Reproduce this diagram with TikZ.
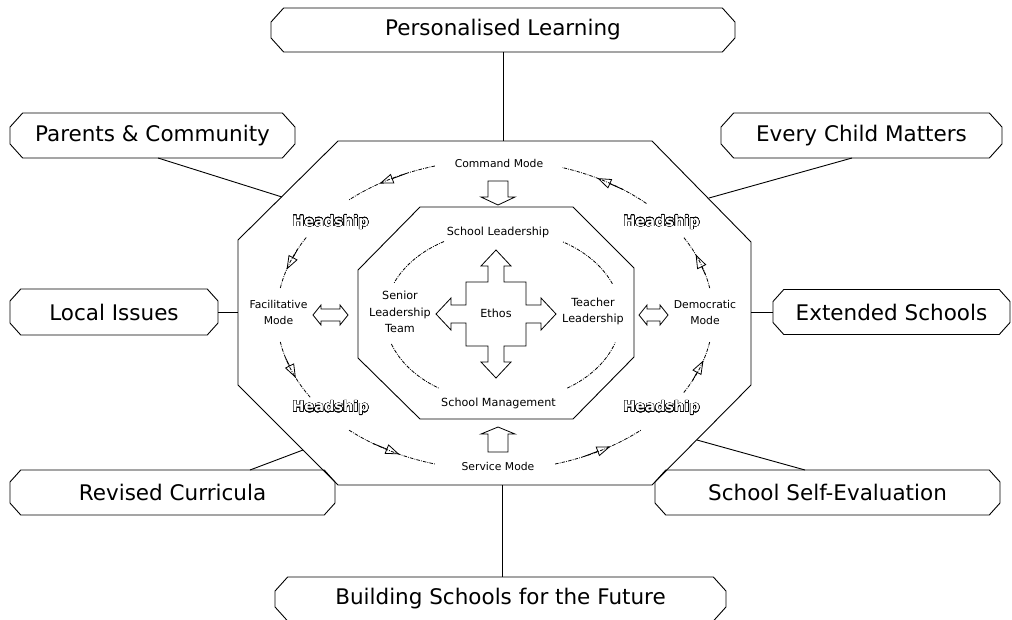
\documentclass[tikz,border=0pt]{standalone}
\usepackage{fontspec}
\setmainfont{DejaVu Sans}
\usepackage[copies]{contour}
\contourlength{0.45pt}
\contournumber{24}
\usetikzlibrary{shapes.misc,arrows.meta}
\tikzset{
  ext/.style={chamfered rectangle, chamfered rectangle xsep=11pt, chamfered rectangle angle=42,
    draw, line width=0.9pt, inner sep=0pt, font=\fontsize{21.5}{25}\selectfont},
  frame/.style={draw, line width=0.9pt},
  conn/.style={draw, line width=0.9pt},
  small/.style={font=\fontsize{10.8}{16}\selectfont, align=center, inner sep=0pt},
  head/.style={font=\bfseries\fontsize{14.5}{16}\selectfont, inner sep=0pt},
  blockarrow/.style={draw, fill=white, line width=0.8pt, line join=miter},
  ring/.style={draw, line width=0.8pt, dash pattern=on 3.5pt off 1.2pt on 0.8pt off 1.2pt},
  tipseg/.style={draw, line width=0.8pt, -{Triangle[open,length=14pt,width=10pt]}}
}
\newcommand{\hdship}{\contour{black}{\textcolor{white}{Headship}}}
\begin{document}
\begin{tikzpicture}[x=1pt,y=-1pt]
\useasboundingbox (0,0) rectangle (1012,619);

% outer boxes
\node[ext, minimum width=464pt, minimum height=44pt] (pl) at (503,30) {Personalised Learning};
\node[ext, minimum width=285pt, minimum height=45pt] (pc) at (152.5,135.5) {Parents \& Community};
\node[ext, minimum width=281pt, minimum height=45pt] (ecm) at (861.5,135.5) {Every Child Matters};
\node[ext, minimum width=208pt, minimum height=46pt] (li) at (114,312) {Local Issues};
\node[ext, minimum width=237pt, minimum height=45pt] (es) at (891.5,312) {Extended Schools};
\node[ext, minimum width=325pt, minimum height=45pt] (rc) at (172.5,492.5) {Revised Curricula};
\node[ext, minimum width=345pt, minimum height=45pt] (sse) at (827.5,492.5) {School Self-Evaluation};
\node[ext, minimum width=451pt, minimum height=44pt] (bsf) at (500.5,599) {Building Schools for the Future};

% outer octagon
\path[frame] (338,141) -- (652,141) -- (751,242) -- (751,385) -- (652,485) -- (338,485) -- (238,385) -- (238,240) -- cycle;
% inner octagon
\path[frame] (420,207) -- (573,207) -- (634,268) -- (634,357) -- (573,419) -- (420,419) -- (358,358) -- (358,270) -- cycle;

% attachment points on the octagon
\coordinate (oT) at (503,141);
\coordinate (oB) at (502,485);
\coordinate (oL) at (238,312);
\coordinate (oR) at (751,312);
\coordinate (oTL) at (282,197);
\coordinate (oTR) at (709,198);
\coordinate (oBL) at (303,450);
\coordinate (oBR) at (697,440);
\coordinate (pcA) at (158,158);
\coordinate (ecmA) at (852,158);
\coordinate (rcA) at (250,470);
\coordinate (sseA) at (805,470);

\path[conn] (pl.south -| oT) -- (oT);
\path[conn] (pcA) -- (oTL);
\path[conn] (ecmA) -- (oTR);
\path[conn] (li.east) -- (oL);
\path[conn] (es.west) -- (oR);
\path[conn] (rcA) -- (oBL);
\path[conn] (sseA) -- (oBR);
\path[conn] (bsf.north -| oB) -- (oB);

% texts in outer ring
\node[small] (cmd) at (499,163) {Command Mode};
\node[small] (srv) at (498,466) {Service Mode};
\node[small] (fac) at (278.5,312) {Facilitative\\Mode};
\node[small] (dem) at (705,312) {Democratic\\Mode};
\node[head] (h1) at (330.5,222.5) {\hdship};
\node[head] (h2) at (661.5,222.5) {\hdship};
\node[head] (h3) at (330.5,408) {\hdship};
\node[head] (h4) at (661.5,408) {\hdship};

% inner texts
\node[small, font=\fontsize{11.2}{16.5}\selectfont] (sl) at (498,232) {School Leadership};
\node[small, font=\fontsize{11.2}{16.5}\selectfont] (sm) at (498.5,403) {School Management};
\node[small, font=\fontsize{11.2}{16.5}\selectfont] (slt) at (400,312) {Senior\\Leadership\\Team};
\node[small, font=\fontsize{11.2}{16.5}\selectfont] (tl) at (593,311.5) {Teacher\\Leadership};

% flow arcs (outer ring)
\def\cx{495}\def\cy{315}\def\rx{218}\def\ry{155}
\foreach \a/\b in {106/132, 150/170, 190/212, 228/254, 286/312, 330/350, 10/30, 46/72}{
  \pgfmathsetmacro\ma{(\a+\b)/2-5}
  \pgfmathsetmacro\mb{(\a+\b)/2+3}
  \path[ring] plot[domain=\a:\b, samples=30] ({\cx+\rx*cos(\x)},{\cy-\ry*sin(\x)});
  \path[tipseg] ({\cx+\rx*cos(\ma)},{\cy-\ry*sin(\ma)}) -- ({\cx+\rx*cos(\mb)},{\cy-\ry*sin(\mb)});
}
% inner ring arcs
\def\icx{503}\def\icy{316}\def\irx{118}\def\iry{86}
\foreach \a/\b in {120/158, 199/237, 303/342, 22/60}{
  \path[ring] plot[domain=\a:\b, samples=30] ({\icx+\irx*cos(\x)},{\icy-\iry*sin(\x)});
}

% block arrows
\path[blockarrow] (488,181) -- (508,181) -- (508,197) -- (515,197) -- (498,205) -- (481,197) -- (488,197) -- cycle;
\path[blockarrow] (488,452) -- (508,452) -- (508,434) -- (515,434) -- (498,427) -- (481,434) -- (488,434) -- cycle;
% double arrows
\path[blockarrow] (313,315) -- (321,305) -- (321,309) -- (340,309) -- (340,305) -- (348,315) -- (340,325) -- (340,321) -- (321,321) -- (321,325) -- cycle;
\path[blockarrow] (639,315) -- (647,305) -- (647,309) -- (660,309) -- (660,305) -- (668,315) -- (660,325) -- (660,321) -- (647,321) -- (647,325) -- cycle;

% ethos cross
\begin{scope}[shift={(496,314)}]
\path[blockarrow] (0,-64) -- (15,-48) -- (8,-48) -- (8,-32) -- (30,-32) -- (30,-9) -- (45,-9) -- (45,-16) -- (60,0)
  -- (45,16) -- (45,9) -- (30,9) -- (30,32) -- (8,32) -- (8,48) -- (15,48) -- (0,64)
  -- (-15,48) -- (-8,48) -- (-8,32) -- (-30,32) -- (-30,9) -- (-45,9) -- (-45,16) -- (-60,0)
  -- (-45,-16) -- (-45,-9) -- (-30,-9) -- (-30,-32) -- (-8,-32) -- (-8,-48) -- (-15,-48) -- cycle;
\end{scope}
\node[small, font=\fontsize{11.2}{14}\selectfont] (ethos) at (496,313) {Ethos};
\end{tikzpicture}
\end{document}
